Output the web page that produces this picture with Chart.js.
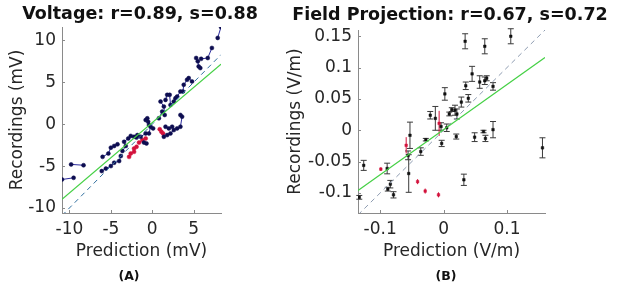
<!DOCTYPE html>
<html>
<head>
<meta charset="utf-8">
<script src="https://cdn.jsdelivr.net/npm/chart.js@4/dist/chart.umd.min.js"></script>
<style>
  html, body { margin: 0; padding: 0; background: #fff; }
  body { width: 617px; height: 288px; position: relative; overflow: hidden; font-family: "DejaVu Sans", sans-serif; }
  .panel { position: absolute; top: 0; height: 288px; }
  #wrapA { left: 0; width: 280px; }
  #wrapB { left: 283px; width: 334px; }
  .tag { position: absolute; top: 268px; font: bold 12.5px "DejaVu Sans", sans-serif; color: #111; transform: translateX(-50%); }
</style>
</head>
<body>
<div class="panel" id="wrapA"><canvas id="voltChart"></canvas></div>
<div class="panel" id="wrapB"><canvas id="fieldChart"></canvas></div>
<div class="tag" style="left:129px">(A)</div>
<div class="tag" style="left:446px">(B)</div>

<script>
// ── Panel A: voltage, short recording sequences (chain id groups consecutive samples) ──
const voltPred  = [-10.9, -9.5,  -9.8, -8.3,
                   -6.0, -5.3, -5.0, -4.6, -4.2,
                   -6.1, -5.6, -5.0, -4.6, -4.0, -3.8,
                   -3.6, -3.2, -3.4, -2.9, -2.6, -2.2, -1.8,
                   -1.9, -1.4, -0.8, -0.4, -0.2, 0.1,
                   -0.8, -0.6, -0.5, -0.4,
                   -1.0, -0.7,
                   1.4, 1.8, 2.2, 2.6, 3.0, 3.4, 3.6, 3.4,
                   1.6, 2.0, 2.4,
                   0.8, 1.2, 1.5, 1.4, 1.0,
                   1.6, 1.8, 2.1, 2.2, 2.6, 2.8, 3.0, 3.4, 3.7, 3.8, 4.2, 4.4, 4.8,
                   5.3, 5.5, 5.6, 5.8,
                   5.9, 6.7, 7.2,
                   7.9, 8.3];
const voltRec   = [-6.6, -6.4,  -4.8, -4.9,
                   -3.9, -3.5, -2.8, -2.6, -2.4,
                   -5.6, -5.3, -5.0, -4.6, -4.4, -3.8,
                   -3.2, -2.6, -2.1, -1.7, -1.4, -1.5, -1.3,
                   -1.6, -1.5, -1.1, -1.1, -0.3, -0.5,
                   0.5, 0.7, 0.3, -0.1,
                   -2.2, -2.3,
                   -1.5, -1.3, -1.1, -0.7, -0.5, -0.3, 0.9, 1.1,
                   -0.3, -0.5, -0.3,
                   0.7, 1.5, 1.1, 2.1, 2.7,
                   2.9, 3.5, 3.5, 2.3, 2.7, 3.1, 3.3, 3.9, 3.9, 4.7, 5.3, 5.5, 5.1,
                   7.9, 7.5, 6.9, 6.7,
                   7.8, 7.9, 9.1,
                   10.3, 11.6];
const voltChain = [0, 0,  1, 1,
                   2, 2, 2, 2, 2,
                   3, 3, 3, 3, 3, 3,
                   4, 4, 4, 4, 4, 4, 4,
                   5, 5, 5, 5, 5, 5,
                   6, 6, 6, 6,
                   7, 7,
                   8, 8, 8, 8, 8, 8, 8, 8,
                   9, 9, 9,
                   10, 10, 10, 10, 10,
                   11, 11, 11, 11, 11, 11, 11, 11, 11, 11, 11, 11, 11,
                   12, 12, 12, 12,
                   13, 13, 13,
                   14, 14];
const voltRedPred  = [-2.8, -2.6, -2.2, -2.2, -1.9,  -1.6, -1.2, -0.8,  0.9, 1.1, 1.3];
const voltRedRec   = [-3.9, -3.5, -3.3, -2.9, -2.7,  -2.2, -1.9, -1.7,  -0.6, -0.9, -1.1];
const voltRedChain = [0, 0, 0, 0, 0,  1, 1, 1,  2, 2, 2];
const voltFit    = [0.84, 0.2];          // slope, intercept
const voltXRange = [-10.9, 8.3];
const voltYRange = [-10.6, 11.6];
const voltXTicks = [-10, -5, 0, 5];
const voltYTicks = [-10, -5, 0, 5, 10];

// ── Panel B: field projection with error bars ──
const fieldPred = [-0.133, -0.126, -0.089, -0.088, -0.084, -0.079, -0.056, -0.055, -0.053, -0.036,
                   -0.028, -0.021, -0.013, -0.004, -0.003, 0.002, 0.005, 0.009, 0.013, 0.018,
                   0.021, 0.020, 0.028, 0.032, 0.034, 0.035, 0.039, 0.045, 0.049, 0.057,
                   0.063, 0.065, 0.065, 0.068, 0.066, 0.078, 0.078, 0.106, 0.156];
const fieldRec  = [-0.107, -0.056, -0.061, -0.094, -0.086, -0.103, -0.040, -0.069, -0.008, -0.034,
                   -0.015, 0.024, 0.019, 0.006, -0.021, 0.058, 0.004, 0.026, 0.033, 0.032,
                   0.026, -0.010, 0.045, -0.079, 0.142, 0.071, 0.051, 0.090, -0.011, 0.077,
                   -0.002, 0.134, 0.079, 0.083, -0.013, 0.070, 0.001, 0.150, -0.028];
const fieldErr  = [0.003, 0.008, 0.0085, 0.003, 0.006, 0.005, 0.007, 0.030, 0.021, 0.006,
                   0.002, 0.006, 0.019, 0.006, 0.005, 0.010, 0.006, 0.003, 0.003, 0.008,
                   0.008, 0.004, 0.008, 0.009, 0.012, 0.006, 0.006, 0.012, 0.007, 0.010,
                   0.002, 0.012, 0.006, 0.004, 0.005, 0.006, 0.013, 0.012, 0.016];
const fieldRedPred = [-0.099, -0.059, -0.041, -0.029, -0.008, -0.007];
const fieldRedRec  = [-0.062, -0.024, -0.082, -0.097, -0.103, 0.011];
const fieldRedErr  = [0.003, 0.013, 0.004, 0.004, 0.004, 0.020];
const fieldFit    = [0.72, 0.001];
const fieldXRange = [-0.135, 0.16];
const fieldYRange = [-0.132, 0.16];
const fieldXTicks = [-0.1, 0, 0.1];
const fieldYTicks = [-0.1, -0.05, 0, 0.05, 0.1, 0.15];

const FONT = '"DejaVu Sans", sans-serif';
const TEXT = '#262626';
const AXIS = '#8a8a8a';

// ── Error bar plugin (uses the chart scales) ─────────────────────────
const errorBars = {
  id: 'errorBars',
  beforeDatasetsDraw(chart) {
    const { ctx, scales: { x, y } } = chart;
    chart.data.datasets.forEach(ds => {
      if (!ds.errors) return;
      ctx.save();
      ctx.strokeStyle = ds.errorColor;
      ctx.lineWidth = 1;
      ds.data.forEach((p, i) => {
        const px = x.getPixelForValue(p.x);
        const y0 = y.getPixelForValue(p.y - ds.errors[i]);
        const y1 = y.getPixelForValue(p.y + ds.errors[i]);
        ctx.beginPath();
        ctx.moveTo(px, y0); ctx.lineTo(px, y1);
        if (ds.caps) {
          ctx.moveTo(px - 3, y0); ctx.lineTo(px + 3, y0);
          ctx.moveTo(px - 3, y1); ctx.lineTo(px + 3, y1);
        }
        ctx.stroke();
      });
      ctx.restore();
    });
  },
};

// ── Inward tick marks, MATLAB style ──────────────────────────────────
const innerTicks = {
  id: 'innerTicks',
  afterDraw(chart) {
    const { ctx, chartArea: a, scales: { x, y } } = chart;
    ctx.save();
    ctx.strokeStyle = AXIS;
    ctx.lineWidth = 1;
    ctx.beginPath();
    x.ticks.forEach(t => {
      const px = Math.round(x.getPixelForValue(t.value)) + 0.5;
      ctx.moveTo(px, a.bottom); ctx.lineTo(px, a.bottom - 3);
    });
    y.ticks.forEach(t => {
      const py = Math.round(y.getPixelForValue(t.value)) + 0.5;
      ctx.moveTo(a.left, py); ctx.lineTo(a.left + 3, py);
    });
    ctx.stroke();
    ctx.restore();
  },
};

function toPoints(xs, ys) {
  return xs.map((v, i) => ({ x: v, y: ys[i] }));
}

function chainDatasets(xs, ys, ids, pointColor, lineColor) {
  const groups = {};
  ids.forEach((id, i) => {
    (groups[id] = groups[id] || []).push({ x: xs[i], y: ys[i] });
  });
  return Object.values(groups).map(pts => ({
    data: pts,
    showLine: true,
    borderColor: lineColor,
    borderWidth: 1,
    pointRadius: 2,
    pointBackgroundColor: pointColor,
    pointBorderColor: pointColor,
    pointBorderWidth: 0.5,
  }));
}

function refLines(range, fit, dashColor) {
  return [
    {
      data: range.map(v => ({ x: v, y: fit[0] * v + fit[1] })),
      showLine: true, borderColor: '#45d045', borderWidth: 1.2, pointRadius: 0,
    },
    {
      data: range.map(v => ({ x: v, y: v })),
      showLine: true, borderColor: dashColor, borderWidth: 1, borderDash: [5, 4], pointRadius: 0,
    },
  ];
}

function axisOpts(range, ticks, title, isY, fitSize, titlePad) {
  return {
    type: 'linear',
    min: range[0],
    max: range[1],
    afterBuildTicks: s => { s.ticks = ticks.map(v => ({ value: v })); },
    afterFit: s => { if (isY) s.width = fitSize; else s.height = fitSize; },
    grid: { display: false, drawTicks: false },
    border: { display: true, color: AXIS, width: 1 },
    ticks: { color: TEXT, padding: 6, font: { family: FONT, size: 17 }, callback: v => String(v) },
    title: {
      display: true, text: title, color: TEXT,
      font: { family: FONT, size: 17 },
      padding: isY ? { top: titlePad, bottom: 0 } : { top: 0, bottom: titlePad },
    },
  };
}

// empty right-hand axis that only reserves space, so the title keeps full width
function spacerAxis(width) {
  return {
    position: 'right',
    display: true,
    grid: { display: false, drawTicks: false },
    border: { display: false },
    ticks: { display: false },
    afterFit: s => { s.width = width; },
  };
}

function baseOptions(titleText, titlePad) {
  return {
    responsive: true,
    maintainAspectRatio: false,
    animation: false,
    layout: { padding: { left: 0, right: 0, top: 0, bottom: 23 } },
    plugins: {
      legend: { display: false },
      tooltip: { enabled: false },
      title: {
        display: true, text: titleText, color: '#111',
        font: { family: FONT, size: 17.5, weight: 'bold' },
        padding: titlePad,
      },
    },
  };
}

// ── Chart A ───────────────────────────────────────────────────────────
const voltOpts = baseOptions('Voltage: r=0.89, s=0.88', { top: 3.5, bottom: 2.5 });
voltOpts.scales = {
  x: axisOpts(voltXRange, voltXTicks, 'Prediction (mV)', false, 52, 3),
  y: axisOpts(voltYRange, voltYTicks, 'Recordings (mV)', true, 62, 7),
  pad: spacerAxis(59),
};
new Chart(document.getElementById('voltChart'), {
  type: 'scatter',
  data: {
    datasets: [
      ...refLines(voltXRange, voltFit, '#2f6e9e'),
      ...chainDatasets(voltPred, voltRec, voltChain, '#0d0d50', '#2a2a9c'),
      ...chainDatasets(voltRedPred, voltRedRec, voltRedChain, '#d3123c', '#d3123c'),
    ],
  },
  options: voltOpts,
  plugins: [innerTicks],
});

// ── Chart B ───────────────────────────────────────────────────────────
const fieldOpts = baseOptions('Field Projection: r=0.67, s=0.72', { top: 4.5, bottom: 4.5 });
fieldOpts.scales = {
  x: axisOpts(fieldXRange, fieldXTicks, 'Prediction (V/m)', false, 52, 3),
  y: axisOpts(fieldYRange, fieldYTicks, 'Recordings (V/m)', true, 75, 2),
  pad: spacerAxis(72),
};
new Chart(document.getElementById('fieldChart'), {
  type: 'scatter',
  data: {
    datasets: [
      ...refLines(fieldXRange, fieldFit, '#8d9bb0'),
      {
        data: toPoints(fieldPred, fieldRec),
        errors: fieldErr, errorColor: '#3a3a3a', caps: true,
        pointStyle: 'rect', pointRadius: 1.8,
        pointBackgroundColor: '#111', pointBorderColor: '#111', pointBorderWidth: 0.5,
      },
      {
        data: toPoints(fieldRedPred, fieldRedRec),
        errors: fieldRedErr, errorColor: '#d3123c', caps: false,
        pointStyle: 'rect', pointRadius: 1.8,
        pointBackgroundColor: '#d3123c', pointBorderColor: '#d3123c', pointBorderWidth: 0.5,
      },
    ],
  },
  options: fieldOpts,
  plugins: [errorBars, innerTicks],
});
</script>
</body>
</html>
